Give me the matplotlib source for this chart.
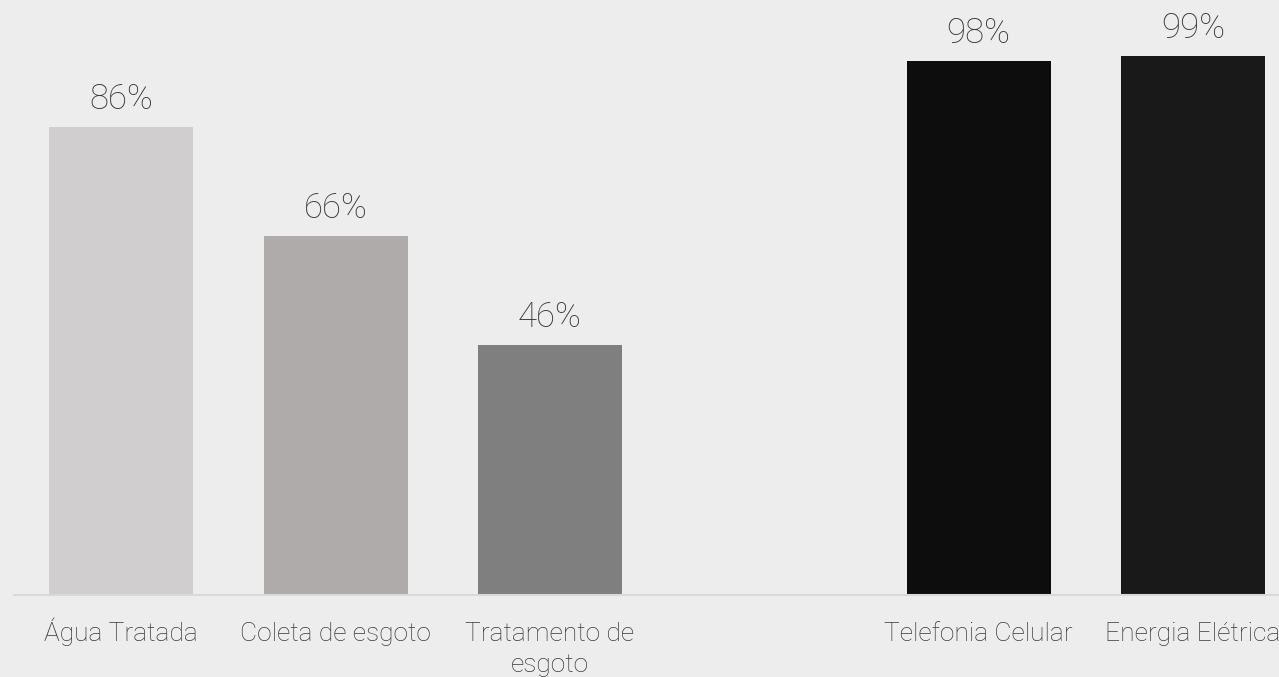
import matplotlib.pyplot as plt

categories = ["Água Tratada", "Coleta de esgoto", "Tratamento de\nesgoto",
              "Telefonia Celular", "Energia Elétrica"]
positions = [0, 1, 2, 4, 5]
values = [86, 66, 46, 98, 99]
colors = ["#D0CECE", "#AFABAB", "#7F7F7F", "#0D0D0D", "#191919"]

bg = "#EDEDED"
text_color = "#3A3A3A"

plt.rcParams['font.family'] = ['Roboto', 'DejaVu Sans']

fig = plt.figure(figsize=(12.79, 6.77), dpi=100, facecolor=bg)
ax = fig.add_axes([0.011, 0.1204, 1.0055, 0.805])
ax.set_facecolor(bg)

bars = ax.bar(positions, values, width=0.672, color=colors, zorder=2)
for b, v in zip(bars, values):
    ax.text(b.get_x() + b.get_width() / 2, v + 3.3, f"{v}%",
            ha="center", va="baseline", fontsize=25, fontweight="light",
            color=text_color)

# category names, first line baselines kept on one row
line_pt = 22.3
for x, name in zip(positions, categories):
    extra = (name.count("\n")) * line_pt
    ax.annotate(name, xy=(x, 0), xycoords=("data", "axes fraction"),
                xytext=(0, -33 - extra), textcoords="offset points",
                ha="center", va="baseline", fontsize=19, fontweight="light",
                color=text_color, linespacing=1.37, annotation_clip=False)

ax.set_xlim(-0.5, 5.5)
ax.set_ylim(0, 100)
ax.set_xticks([])
ax.set_yticks([])

for s in ["top", "right", "left"]:
    ax.spines[s].set_visible(False)
ax.spines["bottom"].set_color("#D9D9D9")
ax.spines["bottom"].set_linewidth(1.5)

fig.savefig("out.png", dpi=100, facecolor=bg)
